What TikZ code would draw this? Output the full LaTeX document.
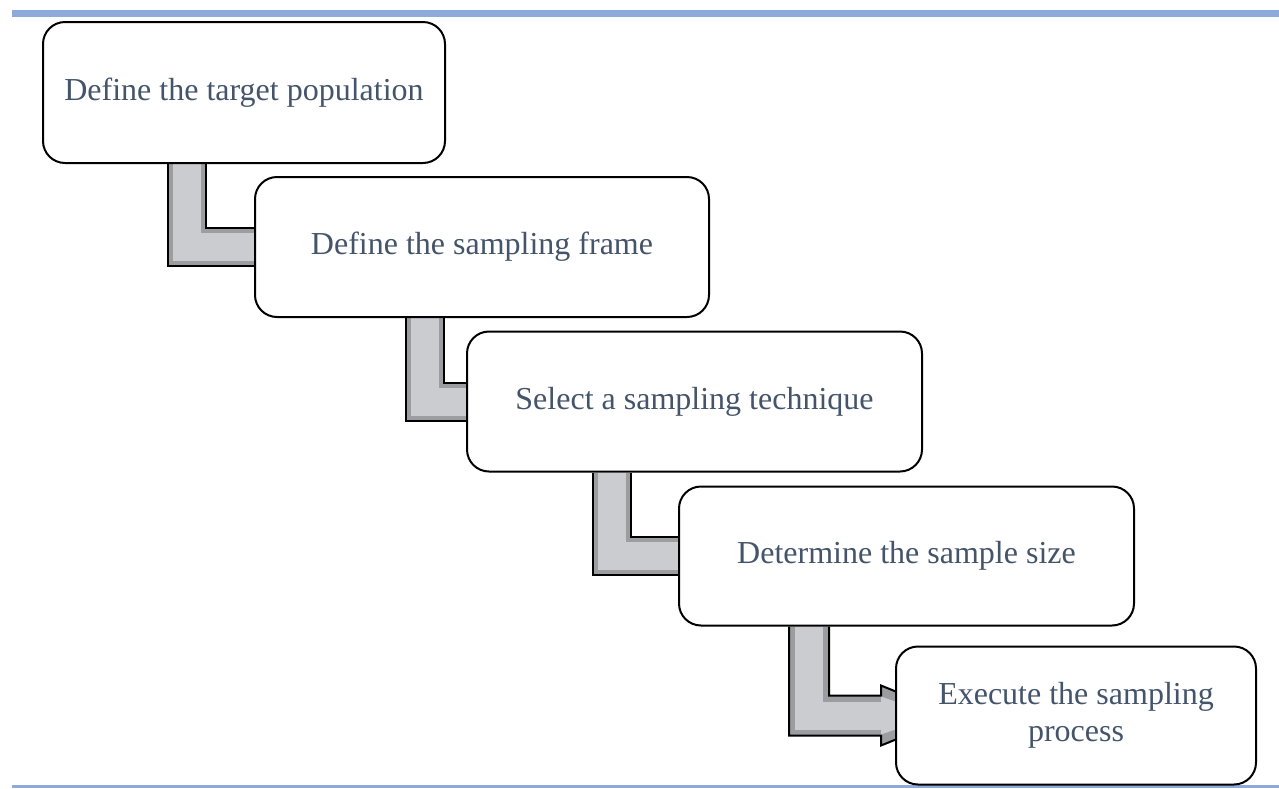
\documentclass[tikz,border=0pt]{standalone}
\usepackage{fontspec}
\setmainfont{Liberation Serif}
\usetikzlibrary{calc,backgrounds}
\definecolor{barblue}{HTML}{8EAADB}
\definecolor{txt}{HTML}{44546A}
\definecolor{conndark}{HTML}{9C9DA1}
\definecolor{connlight}{HTML}{CBCCD0}
\begin{document}
\begin{tikzpicture}[x=1pt,y=-1pt,
  stepbox/.style={draw=black, line width=2pt, fill=white, rounded corners=22pt,
    text=txt, font=\fontsize{32}{37}\selectfont, align=center, inner sep=0pt},
  connouter/.style={draw=black, line width=2pt, double=conndark, double distance=36pt, line join=miter},
  conninner/.style={draw=connlight, line width=28pt, line join=miter},
  arrowshape/.style={draw=black, fill=conndark, line width=2pt, line join=miter}]
\useasboundingbox (0,0) rectangle (1279,788);
\fill[barblue] (12,10) rectangle (1279,17);
\fill[barblue] (12,785) rectangle (1279,788);

\node[stepbox, minimum width=402pt, minimum height=141pt] (b1) at (244,92.5) {Define the target population};
\node[stepbox, minimum width=454pt, minimum height=140pt] (b2) at (482,247) {Define the sampling frame};
\node[stepbox, minimum width=455pt, minimum height=140pt] (b3) at (694.5,401.5) {Select a sampling technique};
\node[stepbox, minimum width=455pt, minimum height=139pt] (b4) at (906.5,556) {Determine the sample size};
\node[stepbox, minimum width=360pt, minimum height=138pt] (b5) at (1076,715.5) {Execute the sampling\\process};

\begin{scope}[on background layer]
  \coordinate (x1) at (187,0);
  \coordinate (x2) at (425,0);
  \coordinate (x3) at (611.5,0);
  \coordinate (x4) at (809,0);
  \draw[connouter] (x1 |- b1.south) |- (b2.west);
  \draw[conninner] (x1 |- b1.south) |- (b2.west);
  \draw[connouter] (x2 |- b2.south) |- (b3.west);
  \draw[conninner] (x2 |- b2.south) |- (b3.west);
  \draw[connouter] (x3 |- b3.south) |- (b4.west);
  \draw[conninner] (x3 |- b3.south) |- (b4.west);
  \draw[arrowshape] ($(x4 |- b4.south)+(-20,0)$) |- ($(b5.west)+(-14,20)$) -- ++(0,10)
     -- ($(b5.west)+(60,0)$) -- ($(b5.west)+(-14,-30)$) -- ++(0,10)
     -| ($(x4 |- b4.south)+(20,0)$);
  \draw[conninner] (x4 |- b4.south) |- ($(b5.west)+(-14,0)$);
  \fill[connlight] ($(b5.west)+(-14,-19)$) -- ($(b5.west)+(40,0)$) -- ($(b5.west)+(-14,19)$) -- cycle;
\end{scope}
\end{tikzpicture}
\end{document}
